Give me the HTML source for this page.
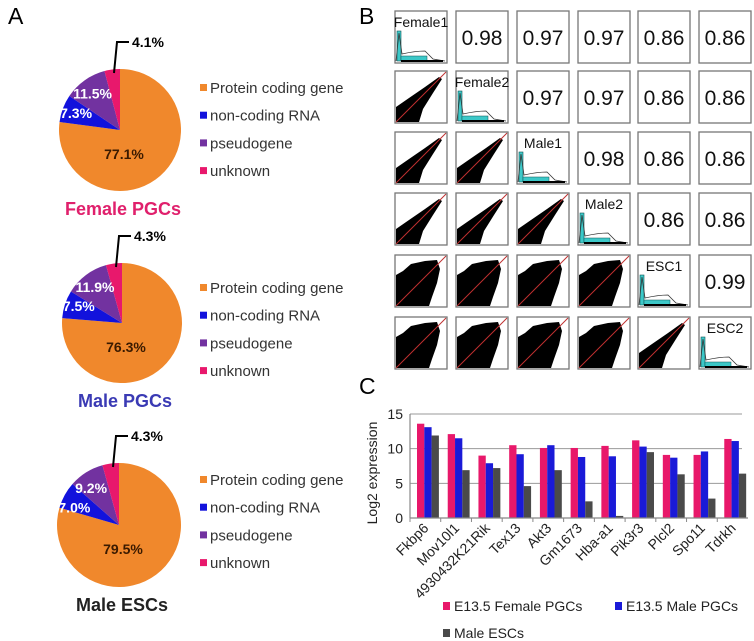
<!DOCTYPE html>
<html><head><meta charset="utf-8"><style>
body{margin:0;background:#fff;}
svg{display:block;font-family:"Liberation Sans",Arial,sans-serif;}
</style></head><body>
<svg id="fig" width="754" height="641" viewBox="0 0 754 641">
<rect x="0" y="0" width="754" height="641" fill="#fff"/>
<text x="8" y="24" font-size="23">A</text>
<text x="359" y="24" font-size="23">B</text>
<text x="359" y="394" font-size="23">C</text>
<g id="pies"></g>
<g id="matrix"></g>
<g id="bars"></g>
</svg>
<script>
const NS="http://www.w3.org/2000/svg";
function mk(tag,attrs,parent,txt){const e=document.createElementNS(NS,tag);for(const k in attrs)e.setAttribute(k,attrs[k]);if(txt!==undefined)e.textContent=txt;parent.appendChild(e);return e;}

// ---- Panel A data ----
const pieTitles=["Female PGCs","Male PGCs","Male ESCs"];
const pieProtein=[77.1,76.3,79.5];
const pieNoncoding=[7.3,7.5,7.0];
const piePseudo=[11.5,11.9,9.2];
const pieUnknown=[4.1,4.3,4.3];
const pieCategories=["Protein coding gene","non-coding RNA","pseudogene","unknown"];
const pieColors=["#f0882c","#1212dc","#7232a0","#e8186c"];
const titleColors=["#e0206c","#3a3ab4","#222"];
const pieCenters=[[120,130],[122,323],[119,525]];
const pieR=[61,60,62];
const legendY=[88,288,480];

const pg=document.getElementById('pies');
for(let p=0;p<3;p++){
  const [cx,cy]=pieCenters[p], r=pieR[p];
  const vals=[pieProtein[p],pieNoncoding[p],piePseudo[p],pieUnknown[p]];
  const tot=vals.reduce((a,b)=>a+b,0);
  let a0=-Math.PI/2;
  vals.forEach((v,i)=>{
    const a1=a0+v/tot*2*Math.PI;
    const large=(a1-a0)>Math.PI?1:0;
    const d=`M${cx},${cy} L${cx+r*Math.cos(a0)},${cy+r*Math.sin(a0)} A${r},${r} 0 ${large} 1 ${cx+r*Math.cos(a1)},${cy+r*Math.sin(a1)} Z`;
    const s=mk('path',{d:d,fill:pieColors[i]},pg);
    
    
    a0=a1;
  });
  const fmt=v=>v.toFixed(1)+'%';
  let t=mk('text',{x:cx+4,y:cy+29,'font-size':14,'font-weight':'bold','text-anchor':'middle',fill:'#3a1a00'},pg,fmt(vals[0]));
  
  t=mk('text',{x:cx-r*0.72,y:cy-r*0.2,'font-size':14,'font-weight':'bold','text-anchor':'middle',fill:'#fff'},pg,fmt(vals[1]));
  
  t=mk('text',{x:cx-r*0.45,y:cy-r*0.52,'font-size':14,'font-weight':'bold','text-anchor':'middle',fill:'#fff'},pg,fmt(vals[2]));
  
  const lx=cx-6, ly=cy-r+4;
  const l=mk('polyline',{points:`${lx},${ly} ${lx+3},${cy-r-27} ${lx+15},${cy-r-27}`,fill:'none',stroke:'#000','stroke-width':2},pg);
  
  t=mk('text',{x:lx+18,y:cy-r-22,'font-size':14,'font-weight':'bold',fill:'#000'},pg,fmt(vals[3]));
  
  t=mk('text',{x:cx+3,y:cy+r+24,'font-size':18,'font-weight':'bold','text-anchor':'middle',fill:titleColors[p]},pg,pieTitles[p]);
  
  pieCategories.forEach((c,i)=>{
    const y=legendY[p]+i*27.7;
    const sq=mk('rect',{x:200,y:y-4,width:7,height:7,fill:pieColors[i]},pg);
    
    const lt=mk('text',{x:210,y:y+5,'font-size':15,fill:'#333'},pg,c);
    
  });
}

// ---- Panel B data ----
const sampleNames=["Female1","Female2","Male1","Male2","ESC1","ESC2"];
const corrRows=[[0.98,0.97,0.97,0.86,0.86],[0.97,0.97,0.86,0.86],[0.98,0.86,0.86],[0.86,0.86],[0.99]];
const mg=document.getElementById('matrix');
const colX=[395,456,517,578,638,699], rowY=[11,71,132,193,255,317], S=52;
for(let r=0;r<6;r++)for(let c=0;c<6;c++){
  const x=colX[c],y=rowY[r];
  const g=mk('g',{},mg);
  
  
  mk('rect',{x:x,y:y,width:S,height:S,fill:'#fff',stroke:'#777','stroke-width':1.3},g);
  if(c>r){
    const t=mk('text',{x:x+S/2,y:y+S/2+8,'font-size':21,'text-anchor':'middle',fill:'#111'},g,corrRows[r][c-r-1].toFixed(2));
    
  } else if(c==r){
    const t=mk('text',{x:x+S/2,y:y+16,'font-size':14,'text-anchor':'middle',fill:'#111'},g,sampleNames[r]);
    
    mk('rect',{x:x+2,y:y+20,width:4,height:S-22,fill:'#3cc8c8',stroke:'#155','stroke-width':0.6},g);
    mk('rect',{x:x+6,y:y+S-7,width:26,height:5,fill:'#3cc8c8',stroke:'#155','stroke-width':0.5},g);
    mk('path',{d:`M${x+1},${y+S-2} L${x+4},${y+22} L${x+7},${y+S-9} Q${x+20},${y+S-12} ${x+30},${y+S-12} L${x+38},${y+S-4} L${x+S-2},${y+S-2}`,fill:'none',stroke:'#333','stroke-width':0.8},g);
    mk('line',{x1:x+6,y1:y+S-2,x2:x+S-4,y2:y+S-2,stroke:'#000','stroke-width':2},g);
  } else {
    const wide=(r>=4&&c<4);
    let d;
    if(wide){
      d=`M${x+1},${y+S-1} L${x+1},${y+20} L${x+8},${y+16} L${x+16},${y+9} L${x+30},${y+6} L${x+42},${y+5} L${x+45},${y+14} L${x+42},${y+28} L${x+37},${y+42} L${x+34},${y+S-1} Z`;
    } else {
      d=`M${x+1},${y+S-1} L${x+1},${y+S-16} L${x+14},${y+S-25} L${x+30},${y+S-36} L${x+44},${y+S-46} L${x+47},${y+S-44} L${x+38},${y+S-30} L${x+28},${y+S-14} L${x+24},${y+S-1} Z`;
    }
    mk('path',{d:d,fill:'#000'},g);
    mk('line',{x1:x+1,y1:y+S-1,x2:x+S-1,y2:y+1,stroke:'#c03030','stroke-width':1},g);
  }
}

// ---- Panel C data ----
const genes=["Fkbp6","Mov10l1","4930432K21Rik","Tex13","Akt3","Gm1673","Hba-a1","Pik3r3","Plcl2","Spo11","Tdrkh"];
const femalePGC=[13.6,12.1,9.0,10.5,10.1,10.1,10.4,11.2,9.1,9.1,11.4];
const malePGC=[13.1,11.5,7.9,9.2,10.5,8.8,8.9,10.3,8.7,9.6,11.1];
const maleESC=[11.9,6.9,7.2,4.6,6.9,2.4,0.3,9.5,6.3,2.8,6.4];
const yTicks=[0,5,10,15];
const seriesNames=["E13.5 Female PGCs","E13.5 Male PGCs","Male ESCs"];
const seriesColors=["#e8186a","#1a1ad8","#4a4a4a"];

const bg=document.getElementById('bars');
const X0=410,X1=748,Y0=518,Y15=414;
const yS=v=>Y0-(v/15)*(Y0-Y15);
const bw=(X1-X0)/genes.length;
const xS=i=>X0+i*bw;
yTicks.forEach(v=>{
  if(v>0){const gl=mk('line',{x1:X0,y1:yS(v),x2:742,y2:yS(v),stroke:'#999','stroke-width':1},bg);
  }
  const t=mk('text',{x:403,y:yS(v)+5,'font-size':14,'text-anchor':'end',fill:'#222'},bg,String(v));
  
});
const yt=mk('text',{x:0,y:0,'font-size':14,'text-anchor':'middle',fill:'#222',transform:'translate(377,473) rotate(-90)'},bg,'Log2 expression');

const series=[femalePGC,malePGC,maleESC];
const barW=7.3;
genes.forEach((gname,i)=>{
  series.forEach((arr,s)=>{
    const bx=xS(i)+7+s*barW;
    const b=mk('rect',{x:bx,y:yS(arr[i]),width:barW,height:Y0-yS(arr[i]),fill:seriesColors[s]},bg);
    
    
  });
  const cx=xS(i)+bw/2+4;
  const tl=mk('text',{x:0,y:0,'font-size':14,'text-anchor':'end',fill:'#222',transform:`translate(${cx},${Y0+11}) rotate(-45)`},bg,gname);
  
  const tk=mk('line',{x1:xS(i),y1:Y0,x2:xS(i),y2:Y0+4,stroke:'#888'},bg);
  
});
const ax=mk('line',{x1:X0,y1:Y0,x2:X1,y2:Y0,stroke:'#888','stroke-width':1.2},bg);

const ay=mk('line',{x1:X0,y1:Y15,x2:X0,y2:Y0,stroke:'#888','stroke-width':1.2},bg);

const legPos=[[443,607],[615,607],[443,634]];
seriesNames.forEach((n,s)=>{
  const [lx,ly]=legPos[s];
  const sq=mk('rect',{x:lx,y:ly-5,width:7,height:8,fill:seriesColors[s]},bg);
  
  const t=mk('text',{x:lx+11,y:ly+4,'font-size':14,fill:'#222'},bg,n);
  
});
</script>
</body></html>
